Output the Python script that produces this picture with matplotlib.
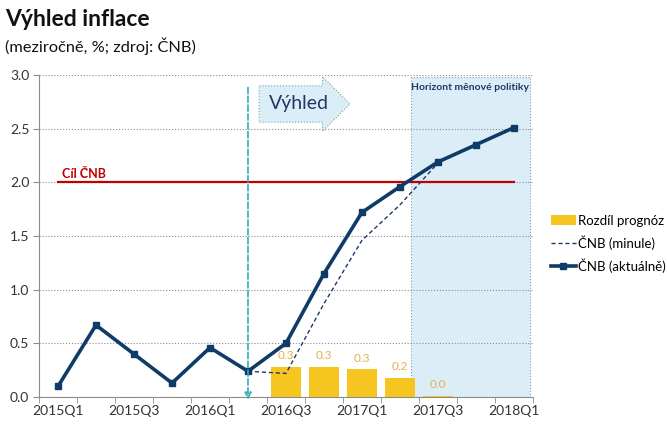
import numpy as np
import matplotlib
matplotlib.use("Agg")
import matplotlib.pyplot as plt

plt.rcParams['font.family'] = ['Lato', 'DejaVu Sans']

# data
kvartaly = ["2015Q1", "2015Q2", "2015Q3", "2015Q4", "2016Q1", "2016Q2", "2016Q3",
            "2016Q4", "2017Q1", "2017Q2", "2017Q3", "2017Q4", "2018Q1"]
aktualne = [0.10, 0.67, 0.40, 0.13, 0.46, 0.24, 0.50, 1.15, 1.72, 1.96, 2.19, 2.35, 2.51]
minule = [np.nan, np.nan, np.nan, np.nan, np.nan, 0.24, 0.22, 0.87, 1.46, 1.79, 2.18, np.nan, np.nan]
rozdil = [np.nan, np.nan, np.nan, np.nan, np.nan, np.nan, 0.28, 0.28, 0.26, 0.18, 0.01, np.nan, np.nan]
cil = 2.0
zacatek_vyhledu = 5          # 2016Q2
horizont = (9.3, 12.42)      # 2017Q3 - 2018Q1

x = np.arange(len(kvartaly))

fig = plt.figure(figsize=(6.67, 4.36), dpi=100)
ax = fig.add_axes([0.0585, 0.0894, 0.7405, 0.7386])

# horizont menove politiky
ax.fill_between(horizont, 0, 2.98, facecolor='#dbeef8', edgecolor='#7f9fb5',
                linestyle=':', linewidth=0.8, zorder=0)
ax.text(horizont[1] - 0.03, 2.93, 'Horizont měnové politiky', ha='right', va='top',
        fontsize=7.5, fontweight='bold', color='#1f3864')

# sloupce
bary = ax.bar(x, rozdil, width=0.8, color='#f7c520', zorder=2, label='Rozdíl prognóz')
ax.bar_label(bary, fmt='%.1f', padding=4, fontsize=8.5, color='#e2b24a')

# cil CNB
ax.plot([x[0], x[-1]], [cil, cil], color='#c00000', linewidth=1.6, zorder=3)
ax.text(x[0] + 0.1, cil + 0.02, 'Cíl ČNB', color='#c00000', fontsize=9,
        fontweight='bold', va='bottom')

# linie
ax.plot(x, minule, color='#1f3864', linestyle='--', linewidth=1.0, dashes=(3, 2),
        zorder=4, label='ČNB (minule)')
ax.plot(x, aktualne, color='#0f3b68', linewidth=2.6, marker='s', markersize=5,
        zorder=5, label='ČNB (aktuálně)')

# zacatek vyhledu
ax.annotate('', xy=(zacatek_vyhledu, -0.05), xytext=(zacatek_vyhledu, 2.91),
            arrowprops=dict(arrowstyle='-|>', color='#35a9bd', linestyle='--',
                            linewidth=1.2, mutation_scale=10, fill=False),
            annotation_clip=False, zorder=6)
ax.text(zacatek_vyhledu + 0.55, 2.73, 'Výhled', fontsize=14, color='#1f3864',
        va='center', ha='left',
        bbox=dict(boxstyle='rarrow,pad=0.5', facecolor='#dbeef8',
                  edgecolor='#7f9fb5', linestyle=':', linewidth=0.8))

# osy
ax.set_xlim(-0.5, len(kvartaly) - 0.5)
ax.set_ylim(0, 3.0)
ax.set_yticks(np.arange(0, 3.01, 0.5))
ax.set_yticklabels(['%.1f' % v for v in np.arange(0, 3.01, 0.5)], fontsize=10, color='#333333')
ax.set_xticks(x)
ax.set_xticklabels([k if i % 2 == 0 else '' for i, k in enumerate(kvartaly)],
                   fontsize=10, color='#333333')
ax.set_xticks(np.arange(-0.5, len(kvartaly), 1), minor=True)
ax.tick_params(axis='x', which='major', length=0, pad=6)
ax.tick_params(axis='x', which='minor', length=4, color='#8c8c8c')
ax.tick_params(axis='y', length=4, color='#8c8c8c', pad=3)
ax.grid(axis='y', linestyle=':', color='#8c8c8c', linewidth=0.8, zorder=1)
ax.set_axisbelow(True)
for s in ['top', 'right']:
    ax.spines[s].set_visible(False)
for s in ['left', 'bottom']:
    ax.spines[s].set_color('#8c8c8c')

h, l = ax.get_legend_handles_labels()
poradi = [l.index('Rozdíl prognóz'), l.index('ČNB (minule)'), l.index('ČNB (aktuálně)')]
fig.legend([h[i] for i in poradi], [l[i] for i in poradi], loc='upper left',
           bbox_to_anchor=(0.818, 0.52), frameon=False,
           fontsize=9.5, handlelength=1.9, handletextpad=0.15, labelspacing=0.65,
           borderaxespad=0)

fig.text(0.008, 0.94, 'Výhled inflace', fontsize=16.5, fontweight='bold', color='#111111')
fig.text(0.008, 0.88, '(meziročně, %; zdroj: ČNB)', fontsize=11.8, color='#111111')

plt.savefig("out.png", dpi=100)
